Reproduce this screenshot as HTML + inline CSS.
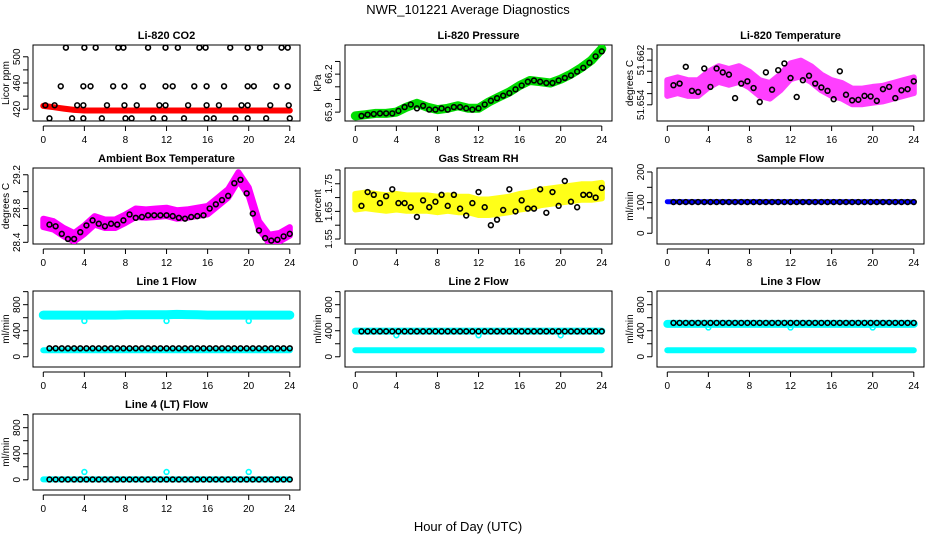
<!DOCTYPE html>
<html><head><meta charset="utf-8"><style>
html,body{margin:0;padding:0;background:#fff;}
svg text{font-family:"Liberation Sans",sans-serif;}
</style></head><body>
<svg id="chart" width="936" height="540" viewBox="0 0 936 540" xmlns="http://www.w3.org/2000/svg">
<rect width="936" height="540" fill="#fff"/>
<text x="468" y="14" text-anchor="middle" font-size="13">NWR_101221  Average Diagnostics</text>
<text x="468" y="531" text-anchor="middle" font-size="13">Hour of Day (UTC)</text>
</svg>
<script>
// shared x ticks
const xTicks = [0,4,8,12,16,20,24];
const blkT = [0.6,1.2,1.8,2.4,3.0,3.6,4.2,4.8,5.4,6.0,6.6,7.2,7.8,8.4,9.0,9.6,10.2,10.8,11.4,12.0,12.6,13.2,13.8,14.4,15.0,15.6,16.2,16.8,17.4,18.0,18.6,19.2,19.8,20.4,21.0,21.6,22.2,22.8,23.4,24.0];
const hourT = [0,1,2,3,4,5,6,7,8,9,10,11,12,13,14,15,16,17,18,19,20,21,22,23,24];
// CO2
const co2TopT = [2.2,4.0,5.1,7.3,7.8,10.2,11.9,13.1,15.2,15.8,18.2,19.9,21.1,23.2,23.8];
const co2MidT = [1.7,3.9,4.6,6.8,7.9,9.7,11.9,12.6,14.7,15.9,17.6,19.9,20.5,22.7,23.8];
const co2LowT = [0.2,1.1,3.3,3.9,6.2,7.9,9.1,11.3,11.9,14.1,15.9,17.1,19.3,19.9,22.1,23.9];
const co2BotT = [0.6,2.8,3.9,5.7,8.0,8.6,10.7,11.8,13.7,15.9,16.6,18.7,19.9,21.7,24.0];
const co2Levels = [514,455,426,406];
const co2Red = [425,423,421,419,418,418,418,418,418,418,418,418,418,418,418,418,418,418,418,418,418,418,418,418,418];
// Pressure
const presGreen = [65.87,65.88,65.89,65.89,65.90,65.94,65.97,65.94,65.92,65.93,65.95,65.93,65.93,65.98,66.02,66.06,66.11,66.15,66.14,66.13,66.16,66.20,66.25,66.31,66.40];
const presBlk = [65.87,65.88,65.885,65.89,65.89,65.89,65.91,65.94,65.96,65.93,65.95,65.92,65.92,65.93,65.92,65.94,65.94,65.93,65.92,65.93,65.96,65.99,66.01,66.03,66.05,66.08,66.11,66.14,66.15,66.14,66.13,66.13,66.15,66.17,66.19,66.22,66.25,66.29,66.34,66.38];
// Temperature
const tempPink = [51.657,51.6575,51.657,51.657,51.6585,51.6595,51.659,51.6595,51.6585,51.657,51.6565,51.658,51.660,51.6605,51.6595,51.658,51.657,51.6565,51.6555,51.6555,51.6558,51.656,51.6565,51.657,51.6575];
const tempBlk = [51.6575,51.6578,51.6608,51.6565,51.6563,51.6605,51.6572,51.6605,51.6598,51.6594,51.6552,51.6578,51.6582,51.6570,51.6545,51.6598,51.6567,51.6602,51.6614,51.6588,51.6554,51.6584,51.6592,51.6578,51.6571,51.6565,51.6550,51.6600,51.6558,51.6548,51.6549,51.6556,51.6555,51.6547,51.6568,51.6572,51.6552,51.6566,51.6568,51.6582];
// Ambient
const ambPink = [28.63,28.6,28.52,28.46,28.55,28.66,28.62,28.62,28.68,28.75,28.74,28.75,28.76,28.73,28.74,28.76,28.78,28.88,28.98,29.18,29.0,28.6,28.44,28.46,28.53];
const ambBlk = [28.61,28.59,28.5,28.44,28.44,28.52,28.6,28.66,28.62,28.59,28.62,28.61,28.66,28.73,28.69,28.7,28.72,28.72,28.72,28.72,28.71,28.69,28.68,28.7,28.71,28.72,28.8,28.85,28.9,28.95,29.1,29.14,28.98,28.74,28.54,28.45,28.42,28.43,28.47,28.5];
// RH
const rhYellow = [1.685,1.69,1.685,1.68,1.685,1.68,1.68,1.68,1.675,1.68,1.675,1.675,1.665,1.665,1.67,1.675,1.685,1.69,1.7,1.705,1.71,1.715,1.72,1.72,1.725];
const rhBlk = [1.67,1.72,1.71,1.68,1.705,1.73,1.68,1.68,1.665,1.63,1.69,1.665,1.685,1.71,1.67,1.71,1.66,1.635,1.68,1.72,1.665,1.60,1.62,1.655,1.73,1.65,1.69,1.66,1.66,1.73,1.645,1.72,1.67,1.76,1.685,1.665,1.71,1.71,1.70,1.735];
// Sample flow
const sampBlue = [103,103,103,103,103,103,103,103,103,103,103,103,103,103,103,103,103,103,103,103,103,103,103,103,103];
const sampBlk = [102,102,102,102,102,102,102,102,102,102,102,102,102,102,102,102,102,102,102,102,102,102,102,102,102,102,102,102,102,102,102,102,102,102,102,102,102,102,102,102];
// Line flows
const dipT = [4,12,20];
const l1High = [640,640,640,640,640,640,640,640,645,645,645,645,645,650,648,645,640,640,640,640,640,640,640,640,640];
const l1Low = [100,100,100,100,100,100,100,100,100,100,100,100,100,100,100,100,100,100,100,100,100,100,100,100,100];
const l1Blk = [130,130,130,130,130,130,130,130,130,130,130,130,130,130,130,130,130,130,130,130,130,130,130,130,130,130,130,130,130,130,130,130,130,130,130,130,130,130,130,130];
const l1Dip = [550,550,550];
const l2High = [395,395,395,395,395,395,395,395,395,395,395,395,395,395,395,395,395,395,395,395,395,395,395,395,395];
const l2Low = [100,100,100,100,100,100,100,100,100,100,100,100,100,100,100,100,100,100,100,100,100,100,100,100,100];
const l2Blk = [390,390,390,390,390,390,390,390,390,390,390,390,390,390,390,390,390,390,390,390,390,390,390,390,390,390,390,390,390,390,390,390,390,390,390,390,390,390,390,390];
const l2Dip = [330,330,330];
const l3High = [505,505,505,505,505,505,505,505,505,505,505,505,505,505,505,505,505,505,505,505,505,505,505,505,505];
const l3Low = [100,100,100,100,100,100,100,100,100,100,100,100,100,100,100,100,100,100,100,100,100,100,100,100,100];
const l3Blk = [520,520,520,520,520,520,520,520,520,520,520,520,520,520,520,520,520,520,520,520,520,520,520,520,520,520,520,520,520,520,520,520,520,520,520,520,520,520,520,520];
const l3Dip = [450,450,450];
const l4Low = [5,5,5,5,5,5,5,5,5,5,5,5,5,5,5,5,5,5,5,5,5,5,5,5,5];
const l4Blk = [5,5,5,5,5,5,5,5,5,5,5,5,5,5,5,5,5,5,5,5,5,5,5,5,5,5,5,5,5,5,5,5,5,5,5,5,5,5,5,5];
const l4Dip = [120,120,120];
const flowTicks = [0,200,400,600,800,1000];
const flowLabels = ["0","","400","","800",""];

const svg = document.getElementById('chart');
const NS = 'http://www.w3.org/2000/svg';
const rowTop = [45,168,291,414];
const BH = 76, BW = 267;
function mk(tag, attrs, parent){
  const e = document.createElementNS(NS, tag);
  for (const k in attrs) e.setAttribute(k, attrs[k]);
  (parent||svg).appendChild(e);
  return e;
}
function panel(name, col, row, title, ylab, lo, hi, ticks, labels){
  const g = mk('g', {});
  
  
  const x0 = 33 + 312*col, top = rowTop[row];
  const X = h => x0 + 10.3 + h*10.27;
  const Y = v => top + BH*(hi - v)/(hi - lo);
  const t = mk('text', {x: x0 + BW/2, y: top - 6, 'text-anchor':'middle', 'font-size':11, 'font-weight':'bold'}, g);
  t.textContent = title;
  
  
  const box = mk('rect', {x:x0, y:top, width:BW, height:BH, fill:'none', stroke:'#000', 'stroke-width':1}, g);
  
  
  const xa = mk('g', {}, g);
  
  
  const yb = top + BH;
  mk('line', {x1:X(0), x2:X(24), y1:yb+5, y2:yb+5, stroke:'#000'}, xa);
  xTicks.forEach(v => {
    mk('line', {x1:X(v), x2:X(v), y1:yb+5, y2:yb+10, stroke:'#000'}, xa);
    const tl = mk('text', {x:X(v), y:yb+22, 'text-anchor':'middle', 'font-size':10}, xa);
    tl.textContent = v;
    
    
  });
  const ya = mk('g', {}, g);
  
  
  mk('line', {x1:x0-5, x2:x0-5, y1:Y(ticks[0]), y2:Y(ticks[ticks.length-1]), stroke:'#000'}, ya);
  ticks.forEach((v,i) => {
    mk('line', {x1:x0-10, x2:x0-5, y1:Y(v), y2:Y(v), stroke:'#000'}, ya);
    if (labels[i]) {
      const tl = mk('text', {x:x0-13, y:Y(v), 'text-anchor':'middle', 'font-size':10, transform:`rotate(-90 ${x0-13} ${Y(v)})`}, ya);
      tl.textContent = labels[i];
      
      
    }
  });
  const yl = mk('text', {x:x0-24, y:top+BH/2, 'text-anchor':'middle', 'font-size':10, transform:`rotate(-90 ${x0-24} ${top+BH/2})`}, ya);
  yl.textContent = ylab;
  
  
  const clipId = 'clip' + col + row;
  const cp = mk('clipPath', {id: clipId}, g);
  mk('rect', {x:x0, y:top, width:BW, height:BH}, cp);
  const data = mk('g', {'clip-path':`url(#${clipId})`}, g);
  return {X, Y, g: data};
}
function band(p, ts, vs, color, width, name){
  const pts = ts.map((t,i) => p.X(t).toFixed(1) + ',' + p.Y(vs[i]).toFixed(1)).join(' ');
  const l = mk('polyline', {points:pts, fill:'none', stroke:color, 'stroke-width':width, 'stroke-linejoin':'round', 'stroke-linecap':'round'}, p.g);
  
  
}
function halo(p, ts, vs, color, halfW, name, op){
  const up = ts.map((t,i) => p.X(t).toFixed(1) + ',' + p.Y(vs[i] + halfW).toFixed(1));
  const dn = ts.map((t,i) => p.X(t).toFixed(1) + ',' + p.Y(vs[i] - halfW).toFixed(1)).reverse();
  const pg = mk('polygon', {points: up.concat(dn).join(' '), fill:color, stroke:color, 'stroke-width':6, 'stroke-linejoin':'round', opacity: op||1}, p.g);
  
  
}
function pts(p, ts, vs, color, name, r){
  ts.forEach((t,i) => {
    const v = Array.isArray(vs) ? vs[i] : vs;
    const c = mk('circle', {cx:p.X(t), cy:p.Y(v), r:r||2.4, fill:'none', stroke:color, 'stroke-width':1.6}, p.g);
    
    
  });
}

let p = panel('co2', 0, 0, 'Li-820 CO2', 'Licor ppm', 402, 518, [420,440,460,480,500], ['420','','460','','500']);
band(p, hourT, co2Red, '#ff0000', 6, 'co2-red-series');
pts(p, co2TopT, co2Levels[0], '#000', 'co2-point');
pts(p, co2MidT, co2Levels[1], '#000', 'co2-point');
pts(p, co2LowT, co2Levels[2], '#000', 'co2-point');
pts(p, co2BotT, co2Levels[3], '#000', 'co2-point');
p = panel('pressure', 1, 0, 'Li-820 Pressure', 'kPa', 65.83, 66.43, [65.9,66.0,66.1,66.2,66.3], ['65.9','','','66.2','']);
band(p, hourT, presGreen, '#00dd00', 9, 'pressure-green-series');
pts(p, blkT, presBlk, '#000', 'pressure-point');
p = panel('temperature', 2, 0, 'Li-820 Temperature', 'degrees C', 51.6511, 51.6647, [51.654,51.656,51.658,51.660,51.662,51.664], ['51.654','','','','51.662','']);
halo(p, hourT, tempPink, '#ff00ff', 0.0014, 'temperature-magenta-series', 0.75);
pts(p, blkT, tempBlk, '#000', 'temperature-point');
p = panel('ambient-temp', 0, 1, 'Ambient Box Temperature', 'degrees C', 28.38, 29.28, [28.4,28.6,28.8,29.0,29.2], ['28.4','','28.8','','29.2']);
halo(p, hourT, ambPink, '#ff00ff', 0.05, 'ambient-magenta-series');
pts(p, blkT, ambBlk, '#000', 'ambient-point');
p = panel('gas-rh', 1, 1, 'Gas Stream RH', 'percent', 1.532, 1.807, [1.55,1.60,1.65,1.70,1.75,1.80], ['1.55','','1.65','','1.75','']);
halo(p, hourT, rhYellow, '#ffff00', 0.028, 'rh-yellow-series', 0.9);
pts(p, blkT, rhBlk, '#000', 'rh-point');
p = panel('sample-flow', 2, 1, 'Sample Flow', 'ml/min', -35, 213, [0,50,100,150,200], ['0','','100','','200']);
band(p, hourT, sampBlue, '#0000ff', 5, 'sample-blue-series');
pts(p, blkT, sampBlk, '#000', 'sample-point');
p = panel('line1-flow', 0, 2, 'Line 1 Flow', 'ml/min', -157, 1010, flowTicks, flowLabels);
band(p, hourT, l1High, '#00ffff', 9, 'line1-cyan-high');
band(p, hourT, l1Low, '#00ffff', 6, 'line1-cyan-low');
pts(p, dipT, l1Dip, '#00ffff', 'line1-dip');
pts(p, blkT, l1Blk, '#000', 'line1-point');
p = panel('line2-flow', 1, 2, 'Line 2 Flow', 'ml/min', -157, 1010, flowTicks, flowLabels);
band(p, hourT, l2High, '#00ffff', 7, 'line2-cyan-high');
band(p, hourT, l2Low, '#00ffff', 6, 'line2-cyan-low');
pts(p, dipT, l2Dip, '#00ffff', 'line2-dip');
pts(p, blkT, l2Blk, '#000', 'line2-point');
p = panel('line3-flow', 2, 2, 'Line 3 Flow', 'ml/min', -157, 1010, flowTicks, flowLabels);
band(p, hourT, l3High, '#00ffff', 8, 'line3-cyan-high');
band(p, hourT, l3Low, '#00ffff', 6, 'line3-cyan-low');
pts(p, dipT, l3Dip, '#00ffff', 'line3-dip');
pts(p, blkT, l3Blk, '#000', 'line3-point');
p = panel('line4-flow', 0, 3, 'Line 4 (LT) Flow', 'ml/min', -157, 1010, flowTicks, flowLabels);
band(p, hourT, l4Low, '#00ffff', 6, 'line4-cyan-low');
pts(p, dipT, l4Dip, '#00ffff', 'line4-dip');
pts(p, blkT, l4Blk, '#000', 'line4-point');
</script>
</body></html>
